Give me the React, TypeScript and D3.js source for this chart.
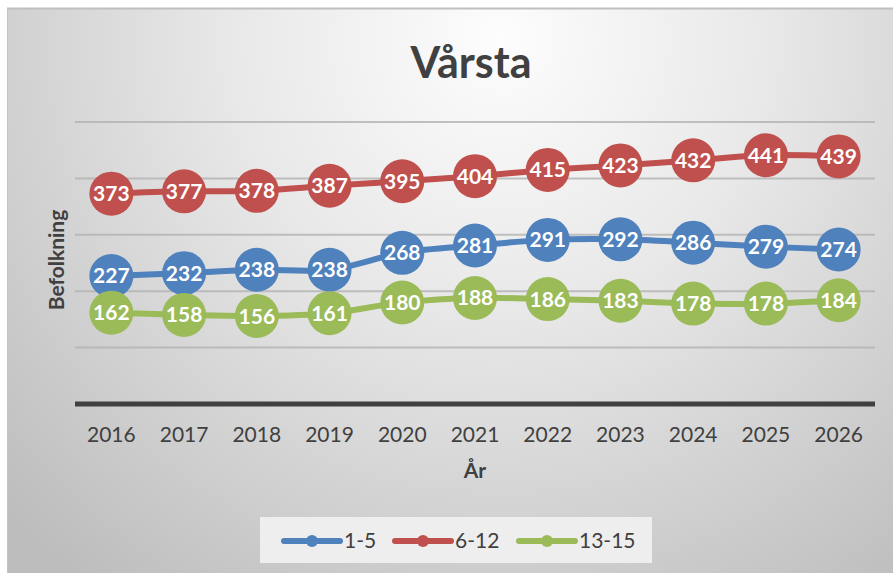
import React from 'react';
import * as d3 from 'd3';

const years = ['2016', '2017', '2018', '2019', '2020', '2021', '2022', '2023', '2024', '2025', '2026'];
const age1to5 = [227, 232, 238, 238, 268, 281, 291, 292, 286, 279, 274];
const age6to12 = [373, 377, 378, 387, 395, 404, 415, 423, 432, 441, 439];
const age13to15 = [162, 158, 156, 161, 180, 188, 186, 183, 178, 178, 184];
const gridValues = [100, 200, 300, 400, 500];

const series = [
  { name: '1-5', values: age1to5, color: '#4F81BD' },
  { name: '6-12', values: age6to12, color: '#C0504D' },
  { name: '13-15', values: age13to15, color: '#9BBB59' },
];

const W = 893;
const H = 573;
const font = 'Lato, "Open Sans", sans-serif';

export default function App() {
  const x = d3.scalePoint<string>().domain(years).range([75, 875]).padding(0.5);
  const y = d3.scaleLinear().domain([0, 500]).range([404, 122]);

  const line = d3
    .line<number>()
    .x((_, i) => x(years[i]) as number)
    .y((d) => y(d))
    .curve(d3.curveCatmullRom.alpha(0.5));

  // legend layout
  const legendX = [284, 395, 519];

  return (
    <div style={{ position: 'absolute', left: 0, top: 0 }}>
      <svg width={W} height={H} style={{ display: 'block' }}>
        <defs>
          <radialGradient id="bg" gradientUnits="userSpaceOnUse" cx={500} cy={40} r={680}>
            <stop offset="0%" stopColor="#fdfdfd" />
            <stop offset="40%" stopColor="#e8e8e8" />
            <stop offset="100%" stopColor="#bdbdbd" />
          </radialGradient>
        </defs>
        <rect x={0} y={0} width={W} height={H} fill="#ffffff" />
        <rect x={7} y={8} width={W - 7} height={H - 8} fill="url(#bg)" />
        <line x1={7} x2={W} y1={8.5} y2={8.5} stroke="#bfbfbf" strokeWidth={2} />
        <line x1={7.5} x2={7.5} y1={8} y2={H} stroke="#c4c4c4" strokeWidth={1} />

        <text x={471} y={78} textAnchor="middle" fontFamily={font} fontWeight="bold" fontSize={43} fill="#404040">
          Vårsta
        </text>

        {gridValues.map((v) => (
          <line key={v} x1={75} x2={875} y1={y(v)} y2={y(v)} stroke="#b3b3b3" strokeWidth={2} opacity={0.8} />
        ))}
        <line x1={75} x2={875} y1={y(0)} y2={y(0)} stroke="#404040" strokeWidth={5} />

        {years.map((yr) => (
          <text key={yr} x={x(yr)} y={442} textAnchor="middle" fontFamily={font} fontSize={21} fill="#404040">
            {yr}
          </text>
        ))}

        <text x={475} y={478} textAnchor="middle" fontFamily={font} fontWeight="bold" fontSize={21} fill="#404040">
          År
        </text>
        <text
          transform={`translate(64,260) rotate(-90)`}
          textAnchor="middle"
          fontFamily={font}
          fontWeight="bold"
          fontSize={21}
          fill="#404040"
        >
          Befolkning
        </text>

        {series.map((s) => (
          <g key={s.name}>
            <path d={line(s.values) || ''} fill="none" stroke={s.color} strokeWidth={6} strokeLinecap="round" />
            {s.values.map((v, i) => (
              <g key={i}>
                <circle cx={x(years[i])} cy={y(v)} r={22} fill={s.color} />
                <text
                  x={x(years[i])}
                  y={y(v) + 7.5}
                  textAnchor="middle"
                  fontFamily={font}
                  fontWeight="bold"
                  fontSize={21}
                  fill="#ffffff"
                >
                  {v}
                </text>
              </g>
            ))}
          </g>
        ))}

        <rect x={260} y={517} width={392} height={46} fill="#eeeeee" />
        {series.map((s, i) => (
          <g key={s.name}>
            <line
              x1={legendX[i]}
              x2={legendX[i] + 56}
              y1={541}
              y2={541}
              stroke={s.color}
              strokeWidth={6}
              strokeLinecap="round"
            />
            <circle cx={legendX[i] + 28} cy={541} r={6} fill={s.color} />
            <text x={legendX[i] + 60} y={548} fontFamily={font} fontSize={21} fill="#404040">
              {s.name}
            </text>
          </g>
        ))}
      </svg>
    </div>
  );
}
